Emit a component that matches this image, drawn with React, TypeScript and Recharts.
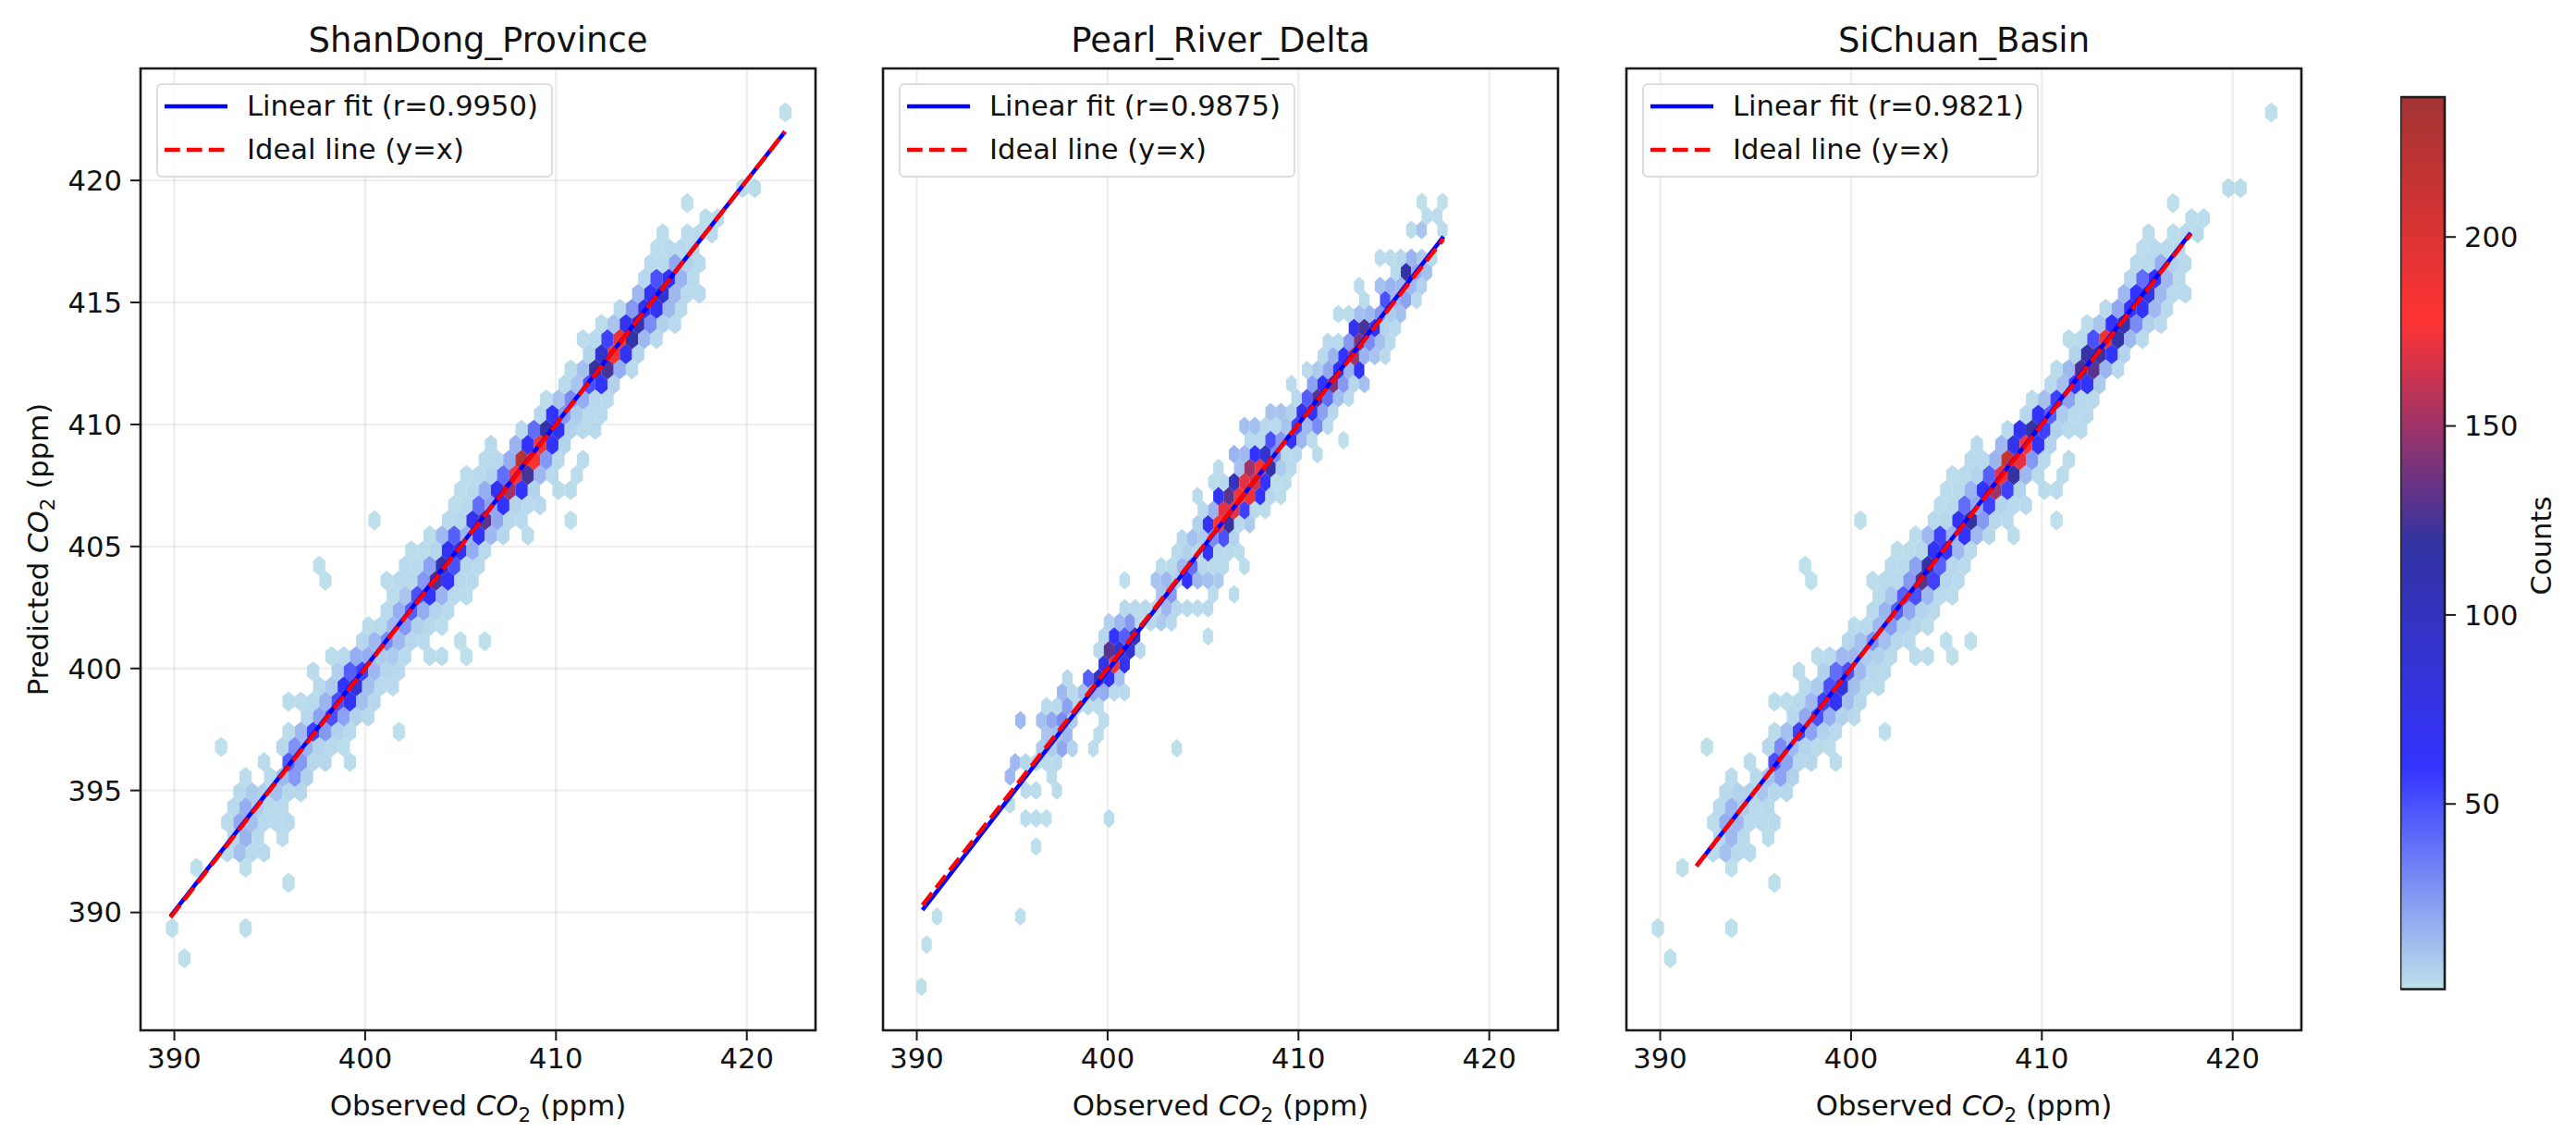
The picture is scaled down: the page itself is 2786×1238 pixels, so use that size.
import { Bar, CartesianGrid, ComposedChart, Label, ReferenceArea, Scatter, XAxis, YAxis } from 'recharts';

// hexbin cells: [row, first half-column, counts every two half-columns]
type HexRow = [number, number, number[]];

const shandongRows: HexRow[] = [
  [0, 2, [1]], [2, 0, [1, 0, 0, 0, 0, 0, 1]], [5, 19, [1]], [6, 4, [1, 0, 0, 0, 1]], [7, 9, [3, 12, 3, 3]],
  [8, 10, [4, 16, 3, 0, 2]], [9, 9, [2, 20, 12, 3, 3, 3]], [10, 10, [3, 18, 8, 3, 3]], [11, 11, [3, 8, 6, 12, 4, 4]],
  [12, 12, [2, 0, 3, 14, 25, 6]], [13, 15, [2, 0, 45, 25, 4, 4, 0, 2]], [14, 8, [1, 0, 0, 0, 0, 4, 28, 16, 5, 3, 2]],
  [15, 19, [2, 14, 55, 25, 6, 3, 0, 0, 0, 1]], [16, 22, [4, 22, 50, 22, 6, 3]], [17, 19, [2, 2, 3, 16, 50, 65, 12, 4]],
  [18, 24, [3, 8, 60, 85, 12, 3, 3]], [19, 23, [2, 0, 6, 45, 55, 14, 4, 3]], [20, 26, [2, 3, 18, 18, 8, 8, 3, 0, 2, 2, 0, 1]],
  [21, 31, [4, 14, 30, 14, 4, 3, 0, 0, 1, 0, 1]], [22, 32, [2, 3, 14, 25, 6, 4, 2]], [23, 35, [3, 18, 45, 18, 5, 3]],
  [24, 36, [2, 10, 50, 60, 16, 3, 2]], [25, 25, [1, 0, 0, 0, 0, 2, 3, 3, 25, 125, 60, 4, 3]],
  [26, 24, [1, 0, 0, 0, 0, 0, 0, 3, 3, 22, 110, 50, 4, 3]], [27, 39, [2, 2, 4, 70, 70, 18, 3]],
  [28, 42, [2, 14, 45, 16, 60, 14, 4, 0, 2]], [29, 33, [1, 0, 0, 0, 0, 0, 3, 4, 70, 130, 20, 4, 3, 0, 0, 0, 1]],
  [30, 46, [2, 3, 40, 22, 60, 5, 3, 3]], [31, 47, [2, 3, 18, 70, 150, 60, 5, 0, 2, 2]],
  [32, 48, [2, 3, 5, 40, 175, 125, 14, 3, 0, 2]], [33, 51, [3, 3, 18, 225, 180, 25, 3, 0, 2]],
  [34, 52, [3, 0, 16, 65, 185, 65, 5]], [35, 57, [3, 40, 115, 65, 6, 3, 3]], [36, 60, [4, 60, 25, 8, 3, 3]],
  [37, 61, [2, 10, 30, 18, 4, 3]], [38, 64, [3, 10, 50, 60, 6]], [39, 65, [2, 12, 120, 125, 18, 3]],
  [40, 68, [5, 90, 185, 70, 5]], [41, 67, [2, 3, 55, 190, 115, 14, 3]], [42, 70, [2, 10, 70, 110, 30, 6, 3]],
  [43, 73, [3, 25, 70, 70, 14, 3]], [44, 76, [14, 65, 90, 14, 3, 3]], [45, 77, [4, 50, 65, 16, 3]],
  [46, 78, [3, 3, 20, 6, 3]], [47, 79, [2, 3, 3, 4]], [48, 80, [2, 0, 2, 3, 3]], [49, 87, [2, 2]], [50, 84, [1]],
  [51, 93, [2, 2]], [56, 100, [1]],
];

const pearlRows: HexRow[] = [
  [0, 0, [1]], [3, 1, [1]], [5, 3, [1, 0, 0, 0, 0, 0, 0, 0, 1]], [10, 22, [1]], [12, 20, [2, 2, 1, 0, 0, 0, 0, 0, 2]],
  [13, 17, [2]], [14, 20, [2, 2, 0, 2]], [15, 17, [14, 0, 0, 0, 2]], [16, 18, [14, 4, 2, 3, 3]],
  [17, 23, [8, 8, 20, 5, 0, 2, 0, 0, 0, 0, 0, 0, 0, 1]], [18, 24, [10, 12, 14, 0, 0, 2]],
  [19, 19, [14, 0, 12, 20, 30, 8, 0, 0, 2]], [20, 24, [3, 3, 22, 4, 2, 2]], [21, 27, [14, 3, 12, 18, 18, 3, 3]],
  [22, 28, [3, 0, 45, 100, 65, 12]], [23, 35, [80, 190, 70]], [24, 34, [3, 130, 90, 90, 3]],
  [25, 35, [4, 60, 45, 100, 0, 0, 0, 0, 0, 0, 1]], [26, 36, [6, 14, 25, 3, 3, 8, 3]],
  [27, 39, [3, 3, 3, 3, 14, 4, 3, 2, 3]], [28, 46, [10, 25, 0, 0, 0, 2, 0, 2]],
  [29, 39, [1, 0, 0, 10, 14, 6, 60, 14, 12, 8]], [30, 46, [2, 3, 14, 40, 4, 3, 3, 0, 2]],
  [31, 49, [3, 6, 4, 60, 3, 3, 2]], [32, 50, [4, 12, 8, 30, 50, 5]], [33, 53, [6, 65, 175, 120, 3, 8]],
  [34, 54, [3, 16, 170, 190, 55, 3, 2]], [35, 53, [2, 0, 65, 130, 185, 190, 60, 4, 2]],
  [36, 56, [2, 3, 100, 170, 165, 60, 2, 2]], [37, 57, [2, 0, 12, 150, 185, 115, 8, 3]],
  [38, 60, [16, 14, 60, 90, 30, 3, 3, 0, 2]], [39, 63, [3, 3, 50, 25, 65, 14, 2, 0, 0, 1]],
  [40, 62, [12, 12, 3, 3, 10, 55, 14, 30, 3]], [41, 67, [10, 10, 6, 70, 65, 22, 4]], [42, 72, [3, 45, 130, 40, 12, 3]],
  [43, 71, [2, 0, 22, 60, 140, 25, 4, 12]], [44, 74, [2, 8, 20, 65, 16, 65]], [45, 77, [3, 16, 60, 150, 16, 10, 3]],
  [46, 78, [3, 3, 25, 140, 30, 12, 3]], [47, 83, [70, 125, 70, 5, 3]], [48, 80, [2, 2, 12, 14, 25, 8, 12]],
  [49, 85, [2, 0, 50, 14, 22, 3]], [50, 84, [2, 0, 12, 16, 14, 14, 6]], [51, 91, [3, 115, 20, 12]],
  [52, 88, [2, 2, 4, 16, 8, 3]], [54, 94, [2, 10, 0, 2]], [55, 97, [2, 2]], [56, 96, [1, 0, 1]],
];

const sichuanRows: HexRow[] = [
  [0, 2, [1]], [2, 0, [1, 0, 0, 0, 0, 0, 1]], [5, 19, [1]], [6, 4, [1, 0, 0, 0, 1]], [7, 9, [3, 12, 3, 3]],
  [8, 10, [4, 14, 3, 0, 2]], [9, 9, [2, 18, 14, 3, 3, 3]], [10, 10, [3, 16, 8, 3, 3]], [11, 11, [3, 6, 6, 10, 4, 4]],
  [12, 12, [2, 0, 3, 12, 22, 6]], [13, 15, [2, 0, 50, 22, 4, 4, 0, 2]], [14, 8, [1, 0, 0, 0, 0, 4, 30, 14, 5, 3, 2]],
  [15, 19, [2, 12, 55, 22, 6, 3, 0, 0, 0, 1]], [16, 22, [4, 20, 50, 18, 6, 3]], [17, 19, [2, 2, 3, 14, 55, 65, 12, 4]],
  [18, 24, [3, 8, 50, 80, 12, 3, 3]], [19, 23, [2, 0, 6, 40, 50, 14, 4, 3]], [20, 26, [2, 3, 14, 14, 8, 6, 3, 0, 2, 2, 0, 1]],
  [21, 31, [4, 12, 28, 12, 4, 3, 0, 0, 1, 0, 1]], [22, 32, [2, 3, 14, 25, 6, 4, 2]], [23, 35, [3, 16, 45, 20, 5, 3]],
  [24, 36, [2, 10, 45, 50, 14, 3, 2]], [25, 25, [1, 0, 0, 0, 0, 2, 3, 3, 25, 130, 55, 4, 3]],
  [26, 24, [1, 0, 0, 0, 0, 0, 0, 3, 3, 22, 115, 45, 4, 3]], [27, 39, [2, 2, 4, 65, 65, 14, 3]],
  [28, 42, [2, 14, 55, 16, 60, 14, 4, 0, 2]], [29, 33, [1, 0, 0, 0, 0, 0, 3, 4, 65, 120, 25, 4, 3, 0, 0, 0, 1]],
  [30, 46, [2, 3, 40, 20, 55, 5, 3, 3]], [31, 47, [2, 3, 16, 60, 150, 55, 5, 0, 2, 2]],
  [32, 48, [2, 3, 5, 45, 170, 120, 14, 3, 0, 2]], [33, 51, [3, 3, 16, 215, 170, 25, 3, 0, 2]],
  [34, 52, [3, 0, 14, 75, 175, 65, 5]], [35, 57, [3, 70, 120, 55, 6, 3, 3]], [36, 60, [4, 60, 45, 8, 3, 3]],
  [37, 61, [2, 12, 55, 22, 4, 3]], [38, 64, [3, 12, 60, 65, 8]], [39, 65, [2, 14, 125, 130, 16, 3]],
  [40, 68, [5, 115, 120, 60, 5]], [41, 67, [2, 3, 50, 190, 115, 14, 3]], [42, 70, [2, 10, 60, 115, 30, 6, 3]],
  [43, 73, [3, 20, 65, 65, 14, 3]], [44, 76, [14, 60, 80, 14, 3, 3]], [45, 77, [4, 40, 60, 14, 3]],
  [46, 78, [3, 3, 18, 6, 3]], [47, 79, [2, 3, 3, 4]], [48, 80, [2, 0, 2, 3, 3]], [49, 87, [2, 2]], [50, 84, [1]],
  [51, 93, [2, 2]], [56, 100, [1]],
];

const shandongFit = [{ x: 389.8, y: 389.85 }, { x: 422.0, y: 422.0 }];
const shandongIdeal = [{ x: 389.8, y: 389.8 }, { x: 422.0, y: 422.0 }];
const pearlFit = [{ x: 390.3, y: 390.1 }, { x: 417.6, y: 417.7 }];
const pearlIdeal = [{ x: 390.3, y: 390.3 }, { x: 417.6, y: 417.6 }];
const sichuanFit = [{ x: 391.9, y: 391.9 }, { x: 417.8, y: 417.85 }];
const sichuanIdeal = [{ x: 391.9, y: 391.9 }, { x: 417.8, y: 417.8 }];

const xTicks = [390, 400, 410, 420];
const yTicks = [390, 395, 400, 405, 410, 415, 420];
const colorbarTicks = [50, 100, 150, 200];
const xDomain = [388.23, 423.6];
const yDomain = [385.17, 424.59];
const colorbarData = [{ name: 'Counts', range: [1, 237] }];

// colormap: lightblue, blue, darkblue, red, darkred
const colorStops = [[173, 216, 230], [0, 0, 255], [0, 0, 139], [255, 0, 0], [139, 0, 0]];

const FONT = '"DejaVu Sans", sans-serif';
const TEXT = '#111';
const PLOT_TOP = 74;
const PLOT_H = 1040;
const PLOT_W = 730;
const PAGE_H = 1238;

function countColor(count: number) {
  const t = Math.min(1, Math.max(0, (count - 1) / 236)) * (colorStops.length - 1);
  const i = Math.min(colorStops.length - 2, Math.floor(t));
  const f = t - i;
  const c = colorStops[i].map((v, k) => Math.round(v + (colorStops[i + 1][k] - v) * f));
  return `rgb(${c[0]},${c[1]},${c[2]})`;
}

type Lattice = { x0: number; dx: number; y0: number; dy: number };

function expand(rows: HexRow[], g: Lattice) {
  const cells: { x: number; y: number; count: number }[] = [];
  rows.forEach(([r, q, counts]) => {
    counts.forEach((count, i) => {
      if (count > 0) cells.push({ x: g.x0 + (q + i * 2) * g.dx, y: g.y0 + r * g.dy, count });
    });
  });
  return cells;
}

function HexCell(props: any) {
  const { cx, cy, payload, halfW, tip } = props;
  if (cx == null || cy == null) return null;
  const s = tip / 2;
  const d = `M${cx},${cy - tip}L${cx + halfW},${cy - s}L${cx + halfW},${cy + s}L${cx},${cy + tip}L${cx - halfW},${cy + s}L${cx - halfW},${cy - s}Z`;
  return <path d={d} fill={countColor(payload.count)} fillOpacity={0.8} />;
}

function Co2Text({ x, y, prefix, rotate }: { x: number; y: number; prefix: string; rotate?: boolean }) {
  return (
    <text x={x} y={y} textAnchor="middle" fontFamily={FONT} fontSize={30.8} fill={TEXT}
      transform={rotate ? `rotate(-90 ${x} ${y})` : undefined}>
      <tspan>{prefix} </tspan>
      <tspan fontStyle="italic">CO</tspan>
      <tspan fontSize={21.5} dy={7}>2</tspan>
      <tspan dy={-7}> (ppm)</tspan>
    </text>
  );
}

function LegendBox({ left, r }: { left: number; r: string }) {
  const row = { position: 'absolute' as const, left: 96, whiteSpace: 'nowrap' as const };
  return (
    <div style={{
      position: 'absolute', left, top: 90, width: 429, height: 102, boxSizing: 'border-box',
      background: 'rgba(255,255,255,0.8)', border: '2px solid #dcdcdc', borderRadius: 6,
      fontFamily: FONT, fontSize: 30.6, color: TEXT, lineHeight: '36px',
    }}>
      <svg width={90} height={100} style={{ position: 'absolute', left: 6, top: 0 }}>
        <line x1={1} x2={69} y1={23} y2={23} stroke="#0000ff" strokeWidth={4.5} />
        <line x1={1} x2={69} y1={70} y2={70} stroke="#ff0000" strokeWidth={4.5} strokeDasharray="16.7 7.2" />
      </svg>
      <div style={{ ...row, top: 5 }}>{`Linear fit (r=${r})`}</div>
      <div style={{ ...row, top: 52 }}>Ideal line (y=x)</div>
    </div>
  );
}

function Panel({ title, r, rows, lattice, fit, ideal, plotLeft, showY }: {
  title: string; r: string; rows: HexRow[]; lattice: Lattice;
  fit: { x: number; y: number }[]; ideal: { x: number; y: number }[];
  plotLeft: number; showY: boolean;
}) {
  const axisW = showY ? plotLeft : 20;
  const chartLeft = plotLeft - axisW;
  const pxX = PLOT_W / (xDomain[1] - xDomain[0]);
  const pxY = PLOT_H / (yDomain[1] - yDomain[0]);
  const halfW = lattice.dx * pxX;
  const tip = (2 / 3) * lattice.dy * pxY;
  const tickStyle = { fontFamily: FONT, fontSize: 30.6, fill: TEXT };
  const axisProps = { stroke: '#1a1a1a', strokeWidth: 2, tickSize: 11, axisLine: false };
  return (
    <>
      <div style={{
        position: 'absolute', left: plotLeft, width: PLOT_W, top: 22, textAlign: 'center',
        fontFamily: FONT, fontSize: 37, color: TEXT, lineHeight: '44px',
      }}>{title}</div>
      <div style={{ position: 'absolute', left: chartLeft, top: 0 }}>
        <ComposedChart width={axisW + PLOT_W + 10} height={PAGE_H}
          margin={{ top: PLOT_TOP, right: 10, bottom: 0, left: 0 }}>
          <CartesianGrid stroke="#b0b0b0" strokeOpacity={0.2} strokeWidth={2.4} />
          <XAxis type="number" dataKey="x" domain={xDomain} ticks={xTicks} height={PAGE_H - PLOT_TOP - PLOT_H}
            allowDataOverflow tickMargin={8} tick={tickStyle} {...axisProps}>
            <Label content={({ viewBox }: any) => (
              <Co2Text x={viewBox.x + viewBox.width / 2} y={1206} prefix="Observed" />
            )} />
          </XAxis>
          <YAxis type="number" dataKey="y" domain={yDomain} ticks={yTicks} width={axisW} allowDataOverflow
            tickMargin={9} tick={showY ? tickStyle : false} {...axisProps}>
            {showY && <Label content={() => <Co2Text x={52} y={PLOT_TOP + PLOT_H / 2} prefix="Predicted" rotate />} />}
          </YAxis>
          <Scatter data={expand(rows, lattice)} isAnimationActive={false} legendType="none"
            shape={(p: any) => <HexCell {...p} halfW={halfW} tip={tip} />} />
          <Scatter data={fit} name="Linear fit" isAnimationActive={false} shape={() => null}
            line={{ stroke: '#0000ff', strokeWidth: 4.5 }} />
          <Scatter data={ideal} name="Ideal line" isAnimationActive={false} shape={() => null}
            line={{ stroke: '#ff0000', strokeWidth: 4.5, strokeDasharray: '16.7 7.2' }} />
          <ReferenceArea x1={xDomain[0]} x2={xDomain[1]} y1={yDomain[0]} y2={yDomain[1]} fill="none"
            stroke="#1a1a1a" strokeWidth={2.6} />
        </ComposedChart>
      </div>
      <LegendBox left={plotLeft + 17} r={r} />
    </>
  );
}

function Colorbar() {
  return (
    <div style={{ position: 'absolute', left: 2596, top: 0 }}>
      <ComposedChart width={190} height={PAGE_H} data={colorbarData} barCategoryGap={0}
        margin={{ top: 105, right: 0, bottom: 168.5, left: 0 }}>
        <defs>
          <linearGradient id="countsGradient" x1="0" y1="1" x2="0" y2="0">
            {colorStops.map((c, i) => (
              <stop key={i} offset={i / (colorStops.length - 1)} stopColor={`rgb(${c[0]},${c[1]},${c[2]})`} stopOpacity={0.8} />
            ))}
          </linearGradient>
        </defs>
        <XAxis dataKey="name" hide />
        <YAxis orientation="right" type="number" domain={[1, 237]} ticks={colorbarTicks} width={142}
          axisLine={false} tickSize={12} tickMargin={9} stroke="#1a1a1a" strokeWidth={2}
          tick={{ fontFamily: FONT, fontSize: 30.6, fill: TEXT }}>
          <Label content={() => (
            <text x={154} y={590} textAnchor="middle" fontFamily={FONT} fontSize={30.6} fill={TEXT}
              transform="rotate(-90 154 590)" dominantBaseline="middle">Counts</text>
          )} />
        </YAxis>
        <Bar dataKey="range" fill="url(#countsGradient)" stroke="#1a1a1a" strokeWidth={2.6} isAnimationActive={false} />
      </ComposedChart>
    </div>
  );
}

const denseLattice = { x0: 389.88, dx: 0.3214, y0: 388.12, dy: 0.619 };
const pearlLattice = { x0: 390.24, dx: 0.2731, y0: 386.96, dy: 0.5743 };

export default function App() {
  return (
    <div style={{ position: 'absolute', left: 0, top: 0, width: 2786, height: PAGE_H, background: '#fff', overflow: 'hidden' }}>
      <Panel title="ShanDong_Province" r="0.9950" rows={shandongRows} lattice={denseLattice}
        fit={shandongFit} ideal={shandongIdeal} plotLeft={152} showY />
      <Panel title="Pearl_River_Delta" r="0.9875" rows={pearlRows} lattice={pearlLattice}
        fit={pearlFit} ideal={pearlIdeal} plotLeft={955} showY={false} />
      <Panel title="SiChuan_Basin" r="0.9821" rows={sichuanRows} lattice={denseLattice}
        fit={sichuanFit} ideal={sichuanIdeal} plotLeft={1759} showY={false} />
      <Colorbar />
    </div>
  );
}
